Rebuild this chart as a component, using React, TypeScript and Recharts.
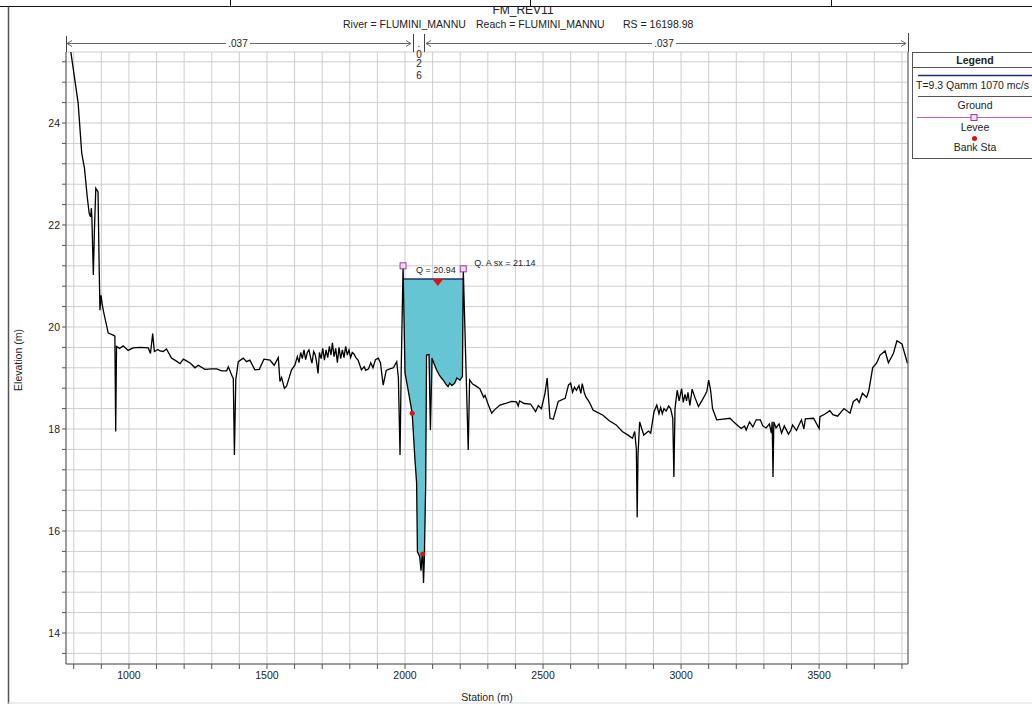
import React from 'react';
import {
  ComposedChart,
  Line,
  Area,
  Scatter,
  XAxis,
  YAxis,
  CartesianGrid,
} from 'recharts';

// ground profile, station (m) / elevation (m)
const stations = [
  788, 816, 829, 839, 849, 856, 861, 864, 866, 871, 875, 880, 888, 892, 895, 899, 903, 908, 925, 943,
  949, 952, 955, 966, 979, 997, 1015, 1040, 1070, 1078, 1086, 1092, 1105, 1112, 1124, 1136, 1146, 1154, 1172, 1185,
  1197, 1210, 1223, 1239, 1251, 1275, 1300, 1318, 1336, 1354, 1360, 1372, 1378, 1382, 1387, 1396, 1414, 1426, 1438, 1456,
  1472, 1489, 1511, 1526, 1541, 1547, 1553, 1563, 1571, 1589, 1601, 1610, 1616, 1622, 1628, 1634, 1640, 1646, 1652, 1658,
  1663, 1669, 1675, 1680, 1685, 1690, 1696, 1702, 1708, 1714, 1720, 1726, 1732, 1737, 1743, 1749, 1755, 1761, 1767, 1773,
  1779, 1785, 1791, 1797, 1803, 1809, 1815, 1822, 1830, 1842, 1852, 1858, 1868, 1876, 1884, 1893, 1903, 1911, 1921, 1932,
  1945, 1958, 1970, 1976, 1982, 1986, 1993, 2000, 2010, 2026, 2036, 2042, 2045, 2053, 2058, 2061, 2064, 2067, 2070, 2075,
  2078, 2087, 2092, 2098, 2104, 2114, 2125, 2132, 2140, 2148, 2156, 2162, 2170, 2180, 2188, 2199, 2208, 2211, 2229, 2234,
  2245, 2255, 2271, 2285, 2290, 2300, 2314, 2325, 2344, 2364, 2386, 2404, 2410, 2415, 2432, 2455, 2473, 2483, 2494, 2507,
  2515, 2525, 2537, 2555, 2580, 2592, 2600, 2607, 2614, 2621, 2630, 2637, 2642, 2650, 2656, 2665, 2672, 2681, 2695, 2717,
  2740, 2765, 2787, 2808, 2824, 2832, 2838, 2841, 2844, 2850, 2858, 2865, 2882, 2890, 2902, 2912, 2920, 2926, 2932, 2938,
  2946, 2955, 2962, 2970, 2974, 2978, 2986, 2993, 3002, 3008, 3014, 3020, 3025, 3032, 3040, 3050, 3063, 3075, 3093, 3100,
  3107, 3114, 3129, 3145, 3177, 3190, 3207, 3218, 3230, 3236, 3248, 3260, 3272, 3287, 3296, 3308, 3320, 3327, 3330, 3333,
  3336, 3344, 3355, 3364, 3374, 3389, 3398, 3404, 3418, 3436, 3445, 3450, 3480, 3500, 3503, 3520, 3539, 3550, 3567, 3590,
  3612, 3624, 3637, 3645, 3657, 3672, 3680, 3694, 3708, 3721, 3739, 3751, 3769, 3782, 3800, 3820,
];

const elevations = [
  25.45, 24.39, 23.41, 23.11, 22.55, 22.23, 22.16, 22.33, 22.1, 21.02, 21.9, 22.72, 22.65, 21.2, 20.33, 20.62, 20.45, 20.3, 19.88, 19.84,
  19.82, 17.95, 19.62, 19.58, 19.63, 19.54, 19.59, 19.6, 19.59, 19.48, 19.87, 19.52, 19.56, 19.53, 19.52, 19.57, 19.47, 19.39, 19.33, 19.28,
  19.37, 19.33, 19.29, 19.2, 19.25, 19.17, 19.18, 19.18, 19.14, 19.14, 19.22, 19.06, 18.99, 17.49, 18.96, 19.32, 19.39, 19.32, 19.35, 19.16,
  19.17, 19.37, 19.35, 19.25, 19.4, 18.93, 19.01, 18.8, 18.84, 19.16, 19.25, 19.42, 19.3, 19.5, 19.38, 19.55, 19.36, 19.5, 19.55, 19.4,
  19.29, 19.52, 19.45, 19.3, 19.09, 19.5, 19.38, 19.58, 19.35, 19.55, 19.4, 19.62, 19.45, 19.69, 19.42, 19.58, 19.3, 19.6, 19.38, 19.55,
  19.4, 19.62, 19.45, 19.55, 19.4, 19.5, 19.47, 19.4, 19.35, 19.16, 19.22, 19.15, 19.18, 19.3, 19.2, 19.36, 19.39, 19.3, 18.86, 19.15,
  19.18, 19.2, 19.32, 19.0, 17.49, 19.1, 21.2, 19.1, 18.8, 18.31, 17.4, 16.94, 15.59, 15.5, 15.22, 15.45, 15.55, 14.98, 15.45, 16.94,
  19.45, 19.46, 17.98, 19.39, 19.3, 19.16, 19.05, 19.0, 18.95, 18.88, 18.83, 18.9, 18.85, 18.9, 19.0, 18.96, 19.03, 21.14, 17.59, 18.96,
  18.88, 18.85, 18.79, 18.62, 18.66, 18.5, 18.31, 18.38, 18.47, 18.5, 18.54, 18.53, 18.45, 18.55, 18.5, 18.49, 18.34, 18.46, 18.4, 18.7,
  19.0, 18.21, 18.19, 18.54, 18.6, 18.86, 18.9, 18.72, 18.82, 18.76, 18.85, 18.7, 18.89, 18.7, 18.62, 18.55, 18.48, 18.37, 18.33, 18.27,
  18.16, 18.08, 17.95, 17.88, 17.82, 17.95, 17.6, 16.27, 17.5, 18.14, 18.0, 17.88, 17.96, 17.92, 18.34, 18.47, 18.3, 18.42, 18.3, 18.4,
  18.35, 18.45, 18.4, 18.21, 17.06, 18.4, 18.76, 18.55, 18.79, 18.52, 18.68, 18.55, 18.72, 18.46, 18.78, 18.62, 18.44, 18.55, 18.73, 18.96,
  18.76, 18.4, 18.18, 18.19, 18.21, 18.14, 18.06, 18.01, 18.06, 17.98, 18.14, 18.04, 18.18, 18.18, 18.06, 18.02, 18.1, 17.92, 18.14, 17.06,
  18.14, 18.02, 18.1, 17.92, 18.06, 17.9, 17.98, 18.08, 17.97, 18.18, 18.0, 18.2, 18.21, 18.01, 18.24, 18.29, 18.36, 18.28, 18.25, 18.4,
  18.31, 18.54, 18.59, 18.52, 18.7, 18.62, 18.75, 19.2, 19.29, 19.45, 19.53, 19.3, 19.48, 19.73, 19.67, 19.29,
];

const wsElev = 20.94;
const waterFrom = 1993;
const waterTo = 2211;

const levees = [
  { st: 1993, el: 21.2, label: '' },
  { st: 2211, el: 21.14, label: 'Q. A sx = 21.14' },
];
const bankStations = [
  { st: 2026, el: 18.31 },
  { st: 2064, el: 15.55 },
];
const wsMarker = [{ st: 2119, el: wsElev, label: 'Q = 20.94' }];

const xTicks = [
  800, 900, 1000, 1100, 1200, 1300, 1400, 1500, 1600, 1700, 1800, 1900, 2000, 2100, 2200, 2300,
  2400, 2500, 2600, 2700, 2800, 2900, 3000, 3100, 3200, 3300, 3400, 3500, 3600, 3700, 3800,
];
const yTicks = [
  13.6, 14, 14.4, 14.8, 15.2, 15.6, 16, 16.4, 16.8, 17.2, 17.6, 18, 18.4, 18.8, 19.2, 19.6, 20,
  20.4, 20.8, 21.2, 21.6, 22, 22.4, 22.8, 23.2, 23.6, 24, 24.4, 24.8, 25.2,
];

const data = stations.map((st, i) => {
  const el = elevations[i];
  const wet = st >= waterFrom && st <= waterTo;
  return {
    st,
    el,
    water: wet ? [Math.min(el, wsElev), wsElev] : null,
    ws: wet ? wsElev : null,
  };
});

const FONT = '"Liberation Sans", Arial, sans-serif';
const W = 1032;
const H = 704;

const LeveeShape = (props: any) => {
  const { cx, cy, payload } = props;
  return (
    <g>
      <rect x={cx - 3} y={cy - 3} width={6} height={6} fill="#f0dcf0" stroke="#9a3c9a" strokeWidth={1} />
      {payload.label && (
        <text x={cx + 11} y={cy - 3} fontSize={9} fontFamily={FONT} fill="#222">
          {payload.label}
        </text>
      )}
    </g>
  );
};

const BankShape = (props: any) => <circle cx={props.cx} cy={props.cy} r={2.5} fill="#e01010" />;

const WsShape = (props: any) => {
  const { cx, cy, payload } = props;
  return (
    <g>
      <polygon points={`${cx - 5.5},${cy} ${cx + 5.5},${cy} ${cx},${cy + 7}`} fill="#e01010" />
      <text x={cx - 2} y={cy - 6} textAnchor="middle" fontSize={9} fontFamily={FONT} fill="#222">
        {payload.label}
      </text>
    </g>
  );
};

const xFmt = (v: number) => (v % 500 === 0 ? String(v) : '');
const yFmt = (v: number) => (Number.isInteger(v) && v % 2 === 0 ? String(v) : '');

const Overlay = () => (
  <svg width={W} height={H} style={{ position: 'absolute', left: 0, top: 0, pointerEvents: 'none' }} fontFamily={FONT}>
    {/* page frame */}
    <text x={523} y={14} textAnchor="middle" fontSize={12} fill="#222">FM_REV11</text>
    <rect x={0} y={0} width={W} height={6.5} fill="#fff" />
    <line x1={0} y1={6.5} x2={W} y2={6.5} stroke="#111" strokeWidth={1.2} />
    <line x1={230.5} y1={0} x2={230.5} y2={6.5} stroke="#111" />
    <line x1={530.5} y1={0} x2={530.5} y2={6.5} stroke="#111" />
    <line x1={831.5} y1={0} x2={831.5} y2={6.5} stroke="#111" />
    <line x1={8.5} y1={6.5} x2={8.5} y2={H} stroke="#555" strokeWidth={1.5} />
    <line x1={8} y1={H - 1} x2={W} y2={H - 1} stroke="#ddd" />

    <text x={343} y={28} fontSize={10.5} fill="#222">River = FLUMINI_MANNU</text>
    <text x={476} y={28} fontSize={10.5} fill="#222">Reach = FLUMINI_MANNU</text>
    <text x={623} y={28} fontSize={10.5} fill="#222">RS = 16198.98</text>

    {/* manning n bar */}
    <g stroke="#666" fill="none" strokeWidth={1}>
      <line x1={67} y1={43.5} x2={411} y2={43.5} />
      <line x1={426} y1={43.5} x2={906} y2={43.5} />
      <path d="M72,40.5 L67,43.5 L72,46.5" />
      <path d="M406,40.5 L411,43.5 L406,46.5" />
      <path d="M431,40.5 L426,43.5 L431,46.5" />
      <path d="M901,40.5 L906,43.5 L901,46.5" />
      <line x1={66.5} y1={36} x2={66.5} y2={52} stroke="#444" />
      <line x1={413.5} y1={34} x2={413.5} y2={52} stroke="#444" />
      <line x1={424.5} y1={34} x2={424.5} y2={52} stroke="#444" />
      <line x1={908.5} y1={33} x2={908.5} y2={52} stroke="#444" />
    </g>
    <rect x={226} y={38} width={24} height={11} fill="#fff" />
    <text x={238} y={47} textAnchor="middle" fontSize={10} fill="#222">.037</text>
    <rect x={652} y={38} width={24} height={11} fill="#fff" />
    <text x={664} y={47} textAnchor="middle" fontSize={10} fill="#222">.037</text>
    <g fontSize={10} fill="#222" textAnchor="middle">
      <text x={419} y={47}>.</text>
      <text x={419} y={58}>0</text>
      <text x={419} y={67}>2</text>
      <text x={419} y={79}>6</text>
    </g>

    {/* axis titles */}
    <text x={22} y={360} fontSize={10.5} fill="#222" textAnchor="middle" transform="rotate(-90 22 360)">
      Elevation (m)
    </text>
    <text x={487} y={701} fontSize={10.5} fill="#222" textAnchor="middle">Station (m)</text>

    {/* legend */}
    <rect x={912.5} y={52.5} width={130} height={106} fill="#fff" stroke="#555" />
    <text x={975} y={64} textAnchor="middle" fontSize={10.5} fontWeight="bold" fill="#222">Legend</text>
    <line x1={913} y1={67.5} x2={W} y2={67.5} stroke="#555" />
    <line x1={918} y1={75.5} x2={W} y2={75.5} stroke="#1f2f6e" strokeWidth={1.5} />
    <text x={916} y={89} fontSize={10.5} fill="#222">T=9.3 Qamm 1070 mc/s</text>
    <line x1={918} y1={96.5} x2={W} y2={96.5} stroke="#555" strokeWidth={1.2} />
    <text x={975} y={109} textAnchor="middle" fontSize={10.5} fill="#222">Ground</text>
    <line x1={917} y1={117.5} x2={W} y2={117.5} stroke="#c060b0" strokeWidth={1.2} />
    <rect x={971} y={114.5} width={6} height={6} fill="#f0dcf0" stroke="#9a3c9a" />
    <text x={975} y={131} textAnchor="middle" fontSize={10.5} fill="#222">Levee</text>
    <circle cx={974.5} cy={138.5} r={2.5} fill="#e01010" />
    <text x={975} y={151} textAnchor="middle" fontSize={10.5} fill="#222">Bank Sta</text>
  </svg>
);

export default function App() {
  return (
    <div style={{ position: 'absolute', left: 0, top: 0, width: W, height: H, background: '#fff' }}>
      <ComposedChart width={W} height={H} data={data} margin={{ top: 52, right: 0, bottom: 0, left: 0 }}>
        <CartesianGrid stroke="#cdcdcd" strokeWidth={1} />
        <XAxis
          dataKey="st"
          type="number"
          domain={[772, 3822]}
          ticks={xTicks}
          interval={0}
          tickFormatter={xFmt}
          height={40}
          tickSize={5}
          tickMargin={3}
          stroke="#555"
          tick={{ fontSize: 10.5, fill: '#222', fontFamily: FONT }}
          allowDataOverflow
        />
        <XAxis
          xAxisId="top"
          orientation="top"
          dataKey="st"
          type="number"
          domain={[772, 3822]}
          ticks={xTicks}
          interval={0}
          tick={false}
          mirror
          tickSize={4}
          height={0}
          stroke="#555"
          allowDataOverflow
        />
        <YAxis
          dataKey="el"
          type="number"
          domain={[13.392, 25.392]}
          ticks={yTicks}
          interval={0}
          tickFormatter={yFmt}
          width={66}
          tickSize={4}
          tickMargin={2}
          stroke="#555"
          tick={{ fontSize: 10.5, fill: '#222', fontFamily: FONT }}
          allowDataOverflow
        />
        <YAxis
          yAxisId="right"
          orientation="right"
          type="number"
          domain={[13.392, 25.392]}
          tick={false}
          tickLine={false}
          width={124}
          stroke="#555"
          allowDataOverflow
        />
        <Area
          dataKey="water"
          type="linear"
          stroke="none"
          fill="#66c5d3"
          fillOpacity={1}
          isAnimationActive={false}
          activeDot={false}
        />
        <Line
          dataKey="ws"
          type="linear"
          stroke="#1f2f6e"
          strokeWidth={1.5}
          dot={false}
          activeDot={false}
          isAnimationActive={false}
        />
        <Line
          dataKey="el"
          type="linear"
          stroke="#000"
          strokeWidth={1.3}
          dot={false}
          activeDot={false}
          isAnimationActive={false}
        />
        <Scatter data={wsMarker} dataKey="el" shape={WsShape} isAnimationActive={false} />
        <Scatter data={levees} dataKey="el" shape={LeveeShape} isAnimationActive={false} />
        <Scatter data={bankStations} dataKey="el" shape={BankShape} isAnimationActive={false} />
      </ComposedChart>
      <Overlay />
    </div>
  );
}
